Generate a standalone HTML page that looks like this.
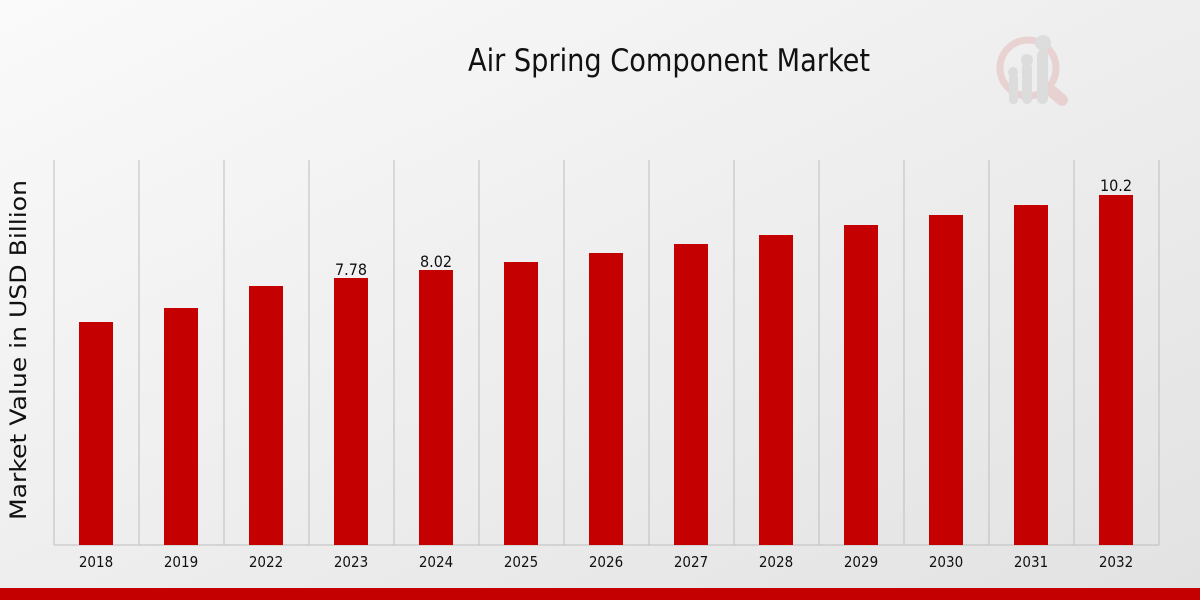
<!DOCTYPE html>
<html><head><style>
body{margin:0;width:1200px;height:600px;overflow:hidden;font-family:"DejaVu Sans Condensed","DejaVu Sans",sans-serif;}
</style></head><body>
<svg width="1200" height="600" xmlns="http://www.w3.org/2000/svg" font-family="DejaVu Sans Condensed, DejaVu Sans, sans-serif">
<defs><linearGradient id="bg" x1="0" y1="0" x2="1" y2="1"><stop offset="0" stop-color="#fafafa"/><stop offset="1" stop-color="#e2e2e2"/></linearGradient></defs>
<rect width="1200" height="600" fill="url(#bg)"/>
<text x="468" y="71" font-size="31" fill="#111" textLength="402" lengthAdjust="spacingAndGlyphs">Air Spring Component Market</text>
<g opacity="0.45">
<circle cx="1028" cy="68" r="28" fill="none" stroke="#e0b0b0" stroke-width="7"/>
<line x1="1048" y1="88" x2="1062" y2="100" stroke="#e0b0b0" stroke-width="12" stroke-linecap="round"/>
<rect x="1009" y="74" width="9" height="30" rx="4" fill="#c8c8c8"/>
<rect x="1022" y="62" width="10" height="42" rx="5" fill="#c8c8c8"/>
<rect x="1037" y="50" width="11" height="54" rx="5" fill="#c8c8c8"/>
<circle cx="1013" cy="72" r="5" fill="#c8c8c8"/><circle cx="1027" cy="60" r="6" fill="#c8c8c8"/><circle cx="1043" cy="43" r="8" fill="#c8c8c8"/>
</g>
<text transform="translate(26 520) rotate(-90)" font-size="22" fill="#111" font-family="DejaVu Sans, sans-serif" textLength="340" lengthAdjust="spacingAndGlyphs">Market Value in USD Billion</text>
<g stroke="#bdbdbd" stroke-width="1">
<line x1="54" y1="160" x2="54" y2="545"/><line x1="139" y1="160" x2="139" y2="545"/><line x1="224" y1="160" x2="224" y2="545"/><line x1="309" y1="160" x2="309" y2="545"/><line x1="394" y1="160" x2="394" y2="545"/><line x1="479" y1="160" x2="479" y2="545"/><line x1="564" y1="160" x2="564" y2="545"/><line x1="649" y1="160" x2="649" y2="545"/><line x1="734" y1="160" x2="734" y2="545"/><line x1="819" y1="160" x2="819" y2="545"/><line x1="904" y1="160" x2="904" y2="545"/><line x1="989" y1="160" x2="989" y2="545"/><line x1="1074" y1="160" x2="1074" y2="545"/><line x1="1159" y1="160" x2="1159" y2="545"/>
<line x1="54" y1="545" x2="1159" y2="545"/>
</g>
<g fill="#c40000">
<rect x="79" y="322" width="34" height="223"/><rect x="164" y="308" width="34" height="237"/><rect x="249" y="286" width="34" height="259"/><rect x="334" y="278" width="34" height="267"/><rect x="419" y="270" width="34" height="275"/><rect x="504" y="262" width="34" height="283"/><rect x="589" y="253" width="34" height="292"/><rect x="674" y="244" width="34" height="301"/><rect x="759" y="235" width="34" height="310"/><rect x="844" y="225" width="34" height="320"/><rect x="929" y="215" width="34" height="330"/><rect x="1014" y="205" width="34" height="340"/><rect x="1099" y="195" width="34" height="350"/>
</g>
<g font-size="16" text-anchor="middle" fill="#111">
<text x="351" y="275">7.78</text><text x="436" y="267">8.02</text><text x="1116" y="191">10.2</text>
</g>
<g font-size="15" text-anchor="middle" fill="#111">
<text x="96" y="567">2018</text><text x="181" y="567">2019</text><text x="266" y="567">2022</text><text x="351" y="567">2023</text><text x="436" y="567">2024</text><text x="521" y="567">2025</text><text x="606" y="567">2026</text><text x="691" y="567">2027</text><text x="776" y="567">2028</text><text x="861" y="567">2029</text><text x="946" y="567">2030</text><text x="1031" y="567">2031</text><text x="1116" y="567">2032</text>
</g>
<rect x="0" y="588" width="1200" height="12" fill="#c40000"/>
</svg>
</body></html>
